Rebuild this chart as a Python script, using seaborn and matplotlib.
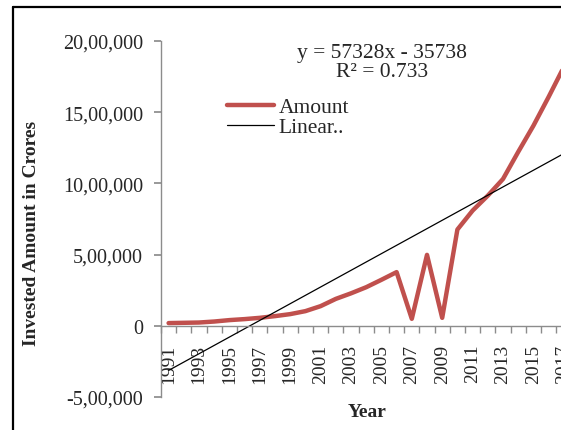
import numpy as np
import pandas as pd
import matplotlib
matplotlib.use('Agg')
import matplotlib.pyplot as plt
import seaborn as sns

# Data
years = list(range(1991, 2018))
amount = [19000, 21000, 23000, 30000, 40000, 47000, 56000, 68000, 82000,
          103000, 138000, 189000, 228000, 271000, 323000, 377000, 49000,
          498000, 56000, 676000, 809000, 914000, 1031000, 1221000, 1405000,
          1607000, 1817000]
y_ticks = [-500000, 0, 500000, 1000000, 1500000, 2000000]
y_tick_labels = ['-5,00,000', '0', '5,00,000', '10,00,000', '15,00,000', '20,00,000']
equation_text = 'y = 57328x - 35738\nR\u00b2 = 0.733'

sns.set_theme(style='white')
plt.rcParams['font.family'] = ['Liberation Serif', 'DejaVu Serif']

pos = np.arange(len(years))
df = pd.DataFrame({'pos': pos, 'Year': years, 'Amount': amount})

# Excel style linear trendline, x = 1..n
coef = np.polyfit(pos + 1, df['Amount'], 1)
df['Linear'] = np.polyval(coef, pos + 1)

W, H = 561, 431
fig = plt.figure(figsize=(W / 100, H / 100), dpi=100)
cat_w = 15.2
ax = fig.add_axes([161 / W, (H - 398) / H, len(years) * cat_w / W, 356 / H])

sns.lineplot(data=df, x='pos', y='Amount', ax=ax, color='#C0504D', linewidth=3.2, label='Amount')
sns.lineplot(data=df, x='pos', y='Linear', ax=ax, color='black', linewidth=0.9, label='Linear..')

ax.set_xlim(-0.5, len(years) - 0.5)
ax.set_ylim(-500000, 2000000)

for s in ['top', 'right']:
    ax.spines[s].set_visible(False)
ax.spines['bottom'].set_position(('data', 0))
for s in ['left', 'bottom']:
    ax.spines[s].set_color('#8c8c8c')
    ax.spines[s].set_linewidth(1)

ax.set_yticks(y_ticks)
ax.set_yticklabels(y_tick_labels, fontsize=14.5)
ax.tick_params(axis='y', direction='out', length=5, color='#8c8c8c', pad=8, left=True)

# labels for every second year at category centres, tick marks between categories
ax.set_xticks(pos[::2])
ax.set_xticklabels([str(y) for y in years[::2]], rotation=90, fontsize=14, va='top')
ax.set_xticks(np.arange(len(years) + 1) - 0.5, minor=True)
ax.tick_params(axis='x', which='major', length=0, pad=13)
ax.tick_params(axis='x', which='minor', direction='out', length=5, color='#8c8c8c', bottom=True)

ax.set_xlabel('')
ax.set_ylabel('')
fig.text(32 / W, 1 - 233 / H, 'Invested Amount in Crores', rotation=90, fontsize=14,
         fontweight='bold', ha='center', va='center')
fig.text(367 / W, 1 - 413 / H, 'Year', fontsize=14, fontweight='bold', ha='center', va='center')

fig.text(382 / W, 1 - 63 / H, equation_text, fontsize=15.5, ha='center', va='center',
         multialignment='center', linespacing=1.0)

ax.legend(loc='upper left', bbox_to_anchor=(227 / W, 1 - 98 / H), bbox_transform=fig.transFigure,
          frameon=False, fontsize=15.5, handlelength=2.2, handletextpad=0.2, labelspacing=0.0,
          borderpad=0, borderaxespad=0)

# outer chart border (left and top edges visible)
fig.add_artist(plt.Line2D([12.5 / W, 12.5 / W], [0, 1 - 8 / H], transform=fig.transFigure,
                          color='black', linewidth=1.6))
fig.add_artist(plt.Line2D([12.5 / W, 1], [1 - 8 / H, 1 - 8 / H], transform=fig.transFigure,
                          color='black', linewidth=1.6))

fig.savefig('out.png', dpi=100)
